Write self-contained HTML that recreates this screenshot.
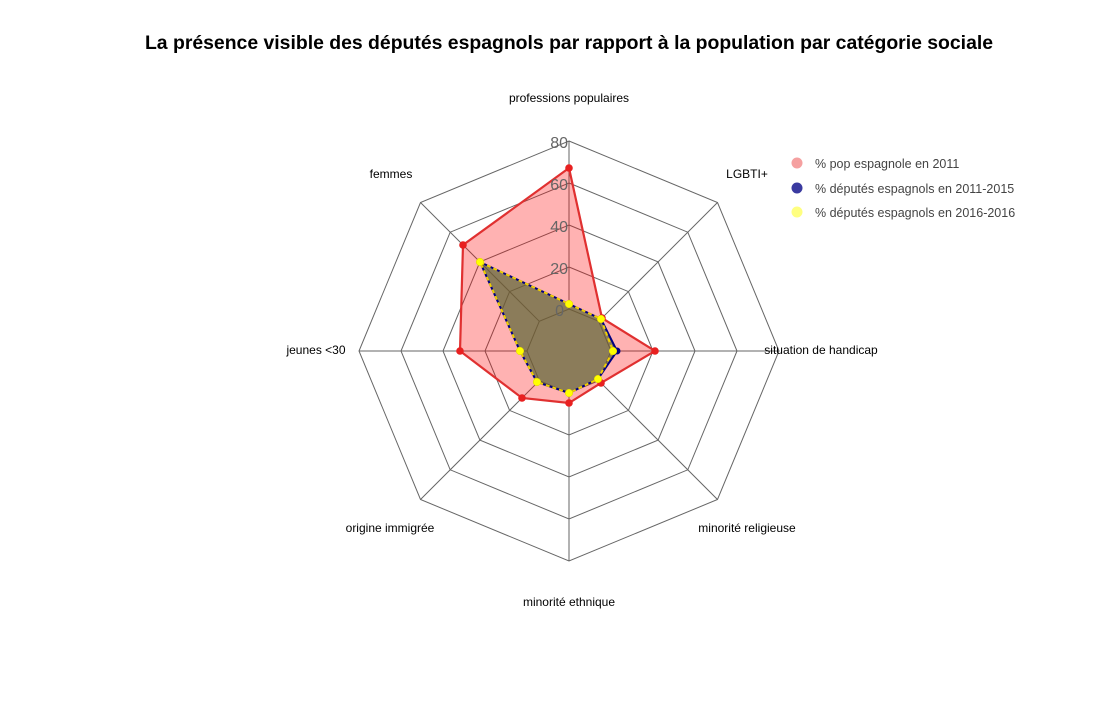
<!DOCTYPE html>
<html><head><meta charset="utf-8"><style>body{margin:0;background:#fff}svg{display:block}text{font-family:"Liberation Sans",sans-serif}</style></head><body>
<svg width="1100" height="721" viewBox="0 0 1100 721">
<text x="569" y="49" text-anchor="middle" font-size="19.4" font-weight="bold">La présence visible des députés espagnols par rapport à la population par catégorie sociale</text>
<g fill="none" stroke="#666" stroke-width="1">
<polygon points="569,309 598.7,321.3 611,351 598.7,380.7 569,393 539.3,380.7 527,351 539.3,321.3"/>
<polygon points="569,267 628.4,291.6 653,351 628.4,410.4 569,435 509.6,410.4 485,351 509.6,291.6"/>
<polygon points="569,225 658.1,261.9 695,351 658.1,440.1 569,477 479.9,440.1 443,351 479.9,261.9"/>
<polygon points="569,183 687.8,232.2 737,351 687.8,469.8 569,519 450.2,469.8 401,351 450.2,232.2"/>
<polygon points="569,141 717.5,202.5 779,351 717.5,499.5 569,561 420.5,499.5 359,351 420.5,202.5"/>
<line x1="569" y1="309" x2="569" y2="141"/><line x1="598.7" y1="321.3" x2="717.5" y2="202.5"/>
<line x1="611" y1="351" x2="779" y2="351"/><line x1="598.7" y1="380.7" x2="717.5" y2="499.5"/>
<line x1="569" y1="393" x2="569" y2="561"/><line x1="539.3" y1="380.7" x2="420.5" y2="499.5"/>
<line x1="527" y1="351" x2="359" y2="351"/><line x1="539.3" y1="321.3" x2="420.5" y2="202.5"/>
</g>
<polygon points="569,168 602,318 655,351 601,383 569,403 522,398 460,351 463,245" fill="rgba(255,0,0,0.3)" stroke="#e03030" stroke-width="2.2"/>
<polygon points="569,304 601,319 617,351 598,379 569,393 537,382 520,351 480,262" fill="rgba(94,103,55,0.72)" stroke="#000080" stroke-width="2"/>
<polygon points="569,304 601,319 613,351 598,379 569,393 537,382 520,351 480,262" fill="none" stroke="#f0d000" stroke-width="2" stroke-dasharray="4,3"/>
<g fill="#e82020">
<circle cx="569" cy="168" r="3.8"/><circle cx="602" cy="318" r="3.8"/><circle cx="655" cy="351" r="3.8"/><circle cx="601" cy="383" r="3.8"/><circle cx="569" cy="403" r="3.8"/><circle cx="522" cy="398" r="3.8"/><circle cx="460" cy="351" r="3.8"/><circle cx="463" cy="245" r="3.8"/>
</g>
<circle cx="617" cy="351" r="3.5" fill="#000080"/>
<g fill="#ffff00" stroke="#e0d000" stroke-width="0.5">
<circle cx="569" cy="304" r="3.8"/><circle cx="601" cy="319" r="3.8"/><circle cx="613" cy="351" r="3.8"/><circle cx="598" cy="379" r="3.8"/><circle cx="569" cy="393" r="3.8"/><circle cx="537" cy="382" r="3.8"/><circle cx="520" cy="351" r="3.8"/><circle cx="480" cy="262" r="3.8"/>
</g>
<g font-size="16" fill="#666" text-anchor="end">
<text x="568" y="148">80</text><text x="568" y="190">60</text><text x="568" y="232">40</text><text x="568" y="274">20</text><text x="564" y="316">0</text>
</g>
<g font-size="12" fill="#000" text-anchor="middle">
<text x="569" y="102">professions populaires</text>
<text x="747" y="178">LGBTI+</text>
<text x="821" y="354">situation de handicap</text>
<text x="747" y="532">minorité religieuse</text>
<text x="569" y="606">minorité ethnique</text>
<text x="390" y="532">origine immigrée</text>
<text x="316" y="354">jeunes &lt;30</text>
<text x="391" y="178">femmes</text>
</g>
<circle cx="797" cy="163" r="5.5" fill="#f5a0a0"/>
<circle cx="797" cy="188" r="5.5" fill="#3a3aa0"/>
<circle cx="797" cy="212" r="5.5" fill="#ffff80"/>
<g font-size="12.5" fill="#444">
<text x="815" y="168">% pop espagnole en 2011</text>
<text x="815" y="193">% députés espagnols en 2011-2015</text>
<text x="815" y="217">% députés espagnols en 2016-2016</text>
</g>
</svg>
</body></html>
